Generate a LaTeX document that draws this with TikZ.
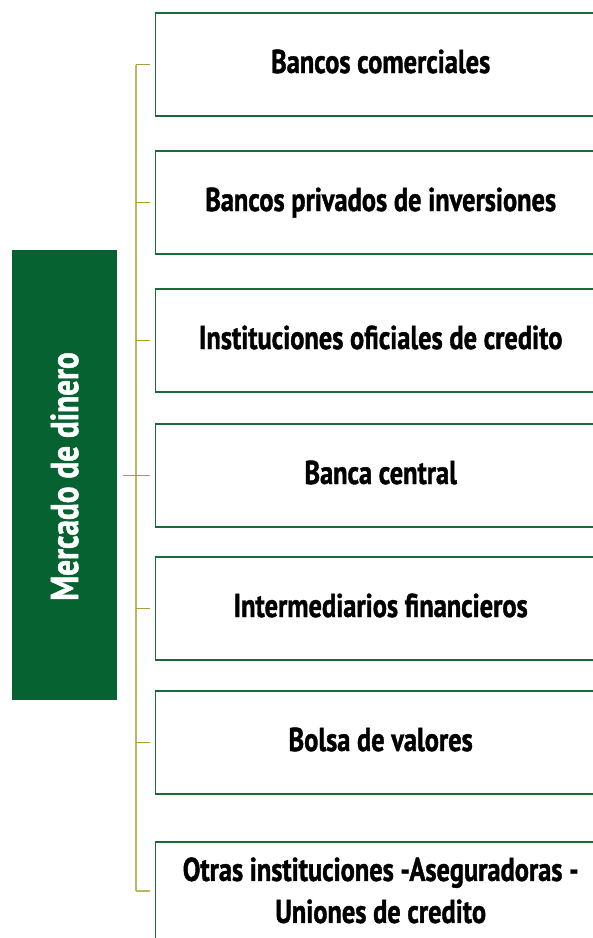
\documentclass[tikz,border=0pt]{standalone}
\usepackage{fontspec}
\setmainfont{PT Sans}[FakeStretch=0.80, BoldFeatures={FakeBold=1.2}]
\definecolor{boxgreen}{RGB}{27,107,58}
\definecolor{fillgreen}{RGB}{6,98,48}
\definecolor{spinecol}{RGB}{186,182,100}
\definecolor{tickcol}{RGB}{165,160,60}
\tikzset{
  itembox/.style={draw=boxgreen, line width=1.3pt, minimum width=450pt, minimum height=103pt,
    inner sep=0pt, align=center, font=\fontsize{33}{42}\selectfont\bfseries},
  onebox/.style={itembox, text height=24pt, text depth=7pt},
  mainbox/.style={fill=fillgreen, draw=none, minimum width=105pt, minimum height=450pt,
    inner sep=0pt},
  spine/.style={draw=spinecol, line width=1.6pt},
  tick/.style={draw=tickcol, line width=1.6pt},
}
\begin{document}
\begin{tikzpicture}[x=1pt,y=-1pt]
\useasboundingbox (0,0) rectangle (593,938);
\clip (0,0) rectangle (593,938);
\node[mainbox] (m) at (64.5,475) {};
\node[rotate=90, text=white, font=\fontsize{39}{44}\selectfont\bfseries] (mt) at ([yshift=-1.5pt]m.center) {Mercado de dinero};
\node[onebox] (b1) at (380.7,64.5) {Bancos comerciales};
\node[onebox] (b2) at (380.7,202.5) {Bancos privados de inversiones};
\node[onebox] (b3) at (380.7,340.5) {Instituciones oficiales de credito};
\node[onebox] (b4) at (380.7,475.5) {Banca central};
\node[onebox] (b5) at (380.7,608.5) {Intermediarios financieros};
\node[onebox] (b6) at (380.7,742.5) {Bolsa de valores};
\node[itembox] (b7) at (380.7,893.5) {\raisebox{6pt}{\begin{tabular}{@{}c@{}}Otras instituciones -Aseguradoras -\\Uniones de credito\end{tabular}}};
\coordinate (s1) at (135.7,64.5);
\coordinate (s7) at (135.7,891);
\draw[spine] (s1) -- (s7);
\draw[tick] (s1) -- ([xshift=-5pt]b1.west);
\draw[tick] (s1|-b2.west) -- ([xshift=-5pt]b2.west);
\draw[tick] (s1|-b3.west) -- ([xshift=-5pt]b3.west);
\draw[tick] ([xshift=6pt]m.east|-b4.west) -- ([xshift=-5pt]b4.west);
\draw[tick] (s1|-b5.west) -- ([xshift=-5pt]b5.west);
\draw[tick] (s1|-b6.west) -- ([xshift=-5pt]b6.west);
\draw[spine] (s7) -- ([xshift=-5pt]b7.west|-s7);
\end{tikzpicture}
\end{document}
